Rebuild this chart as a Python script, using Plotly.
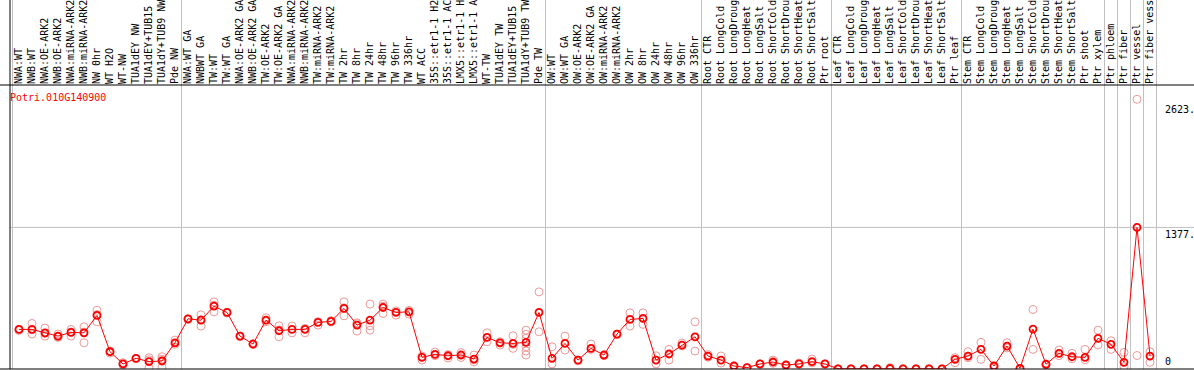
import plotly.graph_objects as go

gene = "Potri.010G140900"

labels = [
    "NWA:WT", "NWB:WT", "NWA:OE-ARK2", "NWB:OE-ARK2", "NWA:miRNA-ARK2", "NWB:miRNA-ARK2",
    "NW 0hr", "WT H2O", "WT-NW", "TUA1dEY NW", "TUA1dEY+TUB15 NW", "TUA1dY+TUB9 NW", "Pde NW",
    "NWA:WT GA", "NWBWT GA", "TW:WT", "TW:WT GA", "NWA:OE-ARK2 GA", "NWB:OE-ARK2 GA",
    "TW:OE-ARK2", "TW:OE-ARK2 GA", "NWA:miRNA-ARK2 GA", "NWB:miRNA-ARK2 GA", "TW:miRNA-ARK2",
    "TW:miRNA-ARK2 GA", "TW 2hr", "TW 8hr", "TW 24hr", "TW 48hr", "TW 96hr", "TW 336hr",
    "WT ACC", "35S::etr1-1 H2O", "35S::etr1-1 ACC", "LMX5::etr1-1 H2O", "LMX5::etr1-1 ACC",
    "WT-TW", "TUA1dEY TW", "TUA1dEY+TUB15 TW", "TUA1dY+TUB9 TW", "Pde TW",
    "OW:WT", "OW:WT GA", "OW:OE-ARK2", "OW:OE-ARK2 GA", "OW:miRNA-ARK2", "OW:miRNA-ARK2 GA",
    "OW 2hr", "OW 8hr", "OW 24hr", "OW 48hr", "OW 96hr", "OW 336hr",
    "Root CTR", "Root LongCold", "Root LongDrought", "Root LongHeat", "Root LongSalt",
    "Root ShortCold", "Root ShortDrought", "Root ShortHeat", "Root ShortSalt", "Ptr root",
    "Leaf CTR", "Leaf LongCold", "Leaf LongDrought", "Leaf LongHeat", "Leaf LongSalt",
    "Leaf ShortCold", "Leaf ShortDrought", "Leaf ShortHeat", "Leaf ShortSalt", "Ptr leaf",
    "Stem CTR", "Stem LongCold", "Stem LongDrought", "Stem LongHeat", "Stem LongSalt",
    "Stem ShortCold", "Stem ShortDrought", "Stem ShortHeat", "Stem ShortSalt", "Ptr shoot",
    "Ptr xylem", "Ptr phloem", "Ptr fiber", "Ptr vessel", "Ptr fiber vessel",
]

means = [
    385, 385, 352, 320, 356, 352, 521, 168, 49, 104, 71, 78, 255,
    488, 475, 611, 550, 320, 243, 475, 372, 385, 385, 453, 463, 589, 427, 475, 598, 550, 556,
    113, 143, 129, 136, 97, 307, 255, 249, 259, 550,
    104, 249, 87, 201, 136, 340, 482, 492, 87, 146, 233, 313,
    126, 87, 29, 13, 49, 68, 39, 49, 71, 49,
    2, 2, 2, 2, 5, 2, 2, 2, 2, 94,
    126, 191, 29, 223, 7, 388, 46, 152, 119, 113,
    298, 240, 65, 1377, 126,
]

reps = [
    [385, 375], [443, 340, 380], [398, 320, 345], [340, 307, 315], [385, 320, 360], [410, 255, 360],
    [572, 459, 530], [155, 175], [61, 39, 47], [104, 100], [110, 10, 90], [119, 19, 95], [281, 240],
    [488, 480], [527, 417, 480], [653, 556, 620], [550, 545], [320, 315], [243, 238], [498, 460],
    [420, 313, 380], [417, 352], [352, 395], [427, 460], [470, 458], [653, 517, 595], [449, 369, 440],
    [631, 378, 420], [631, 540, 610], [524, 565], [534, 570],
    [87, 125], [165, 130], [107, 140], [160, 112], [136, 70, 90], [352, 265], [233, 265],
    [323, 201, 240], [378, 337, 298, 216, 175, 136], [750, 362],
    [216, 49], [320, 184], [87, 80], [243, 190], [136, 130], [340, 335], [546, 417],
    [546, 434], [129, 49], [191, 87], [252, 225], [459, 175],
    [140, 115], [126, 58], [29, 25], [13, 10], [49, 45], [87, 55], [39, 35], [58, 45], [97, 60], [49, 45],
    [2, 0], [2, 0], [2, 0], [2, 0], [13, 0], [2, 0], [2, 0], [2, 0], [2, 0], [61, 110],
    [168, 110], [259, 94], [29, 20], [255, 205], [7, 2], [579, 191], [46, 40], [184, 130],
    [152, 100], [191, 90],
    [378, 233], [275, 191], [162, 22], [2623, 131], [168, 65],
]

group_ends = [0, 13, 41, 53, 63, 73, 84, 85, 86, 87, 88]

xs = list(range(1, len(labels) + 1))
rep_x = [i for i, r in zip(xs, reps) for _ in r]
rep_y = [v for r in reps for v in r]

mono = "DejaVu Sans Mono"

fig = go.Figure()
fig.add_trace(go.Scatter(
    x=rep_x, y=rep_y, mode="markers",
    marker=dict(symbol="circle-open", size=8, color="#eb9a9a", line=dict(width=1)),
    hoverinfo="skip", showlegend=False,
))
fig.add_trace(go.Scatter(
    x=xs, y=means, mode="lines+markers",
    line=dict(color="#ff0000", width=1),
    marker=dict(symbol="circle-open", size=7, color="#ff0000", line=dict(width=1.8)),
    showlegend=False,
))

W, H = 1194, 370
L, R, T, B = 10, 0, 85, 1
pw = W - L - R
ph = H - T - B
x0 = 1 - 9 / 13.0
x1 = x0 + pw / 13.0
ymax_val = max(rep_y)
ytop = ymax_val * (ph) / (ph - 14.3)

shapes = []
for g in group_ends:
    shapes.append(dict(type="line", xref="x", yref="paper", x0=g + 0.5, x1=g + 0.5,
                       y0=0, y1=(H - B) / ph, line=dict(color="#c0c0c0", width=1), layer="below"))
shapes.append(dict(type="line", xref="paper", yref="y", x0=0, x1=1,
                   y0=max(means), y1=max(means), line=dict(color="#c0c0c0", width=1), layer="below"))
shapes.append(dict(type="line", xref="paper", yref="paper", x0=0, x1=0, y0=0, y1=(H - B) / ph,
                   line=dict(color="black", width=1)))
shapes.append(dict(type="line", xref="paper", yref="paper", x0=-L / pw, x1=1, y0=1, y1=1,
                   line=dict(color="black", width=1)))
shapes.append(dict(type="line", xref="paper", yref="paper", x0=-L / pw, x1=1, y0=0, y1=0,
                   line=dict(color="black", width=1)))

lab_x = (1163 - L) / pw
annotations = [
    dict(text=gene, xref="paper", yref="paper", x=0, y=(H - B - 97) / ph, xanchor="left",
         yanchor="middle", xshift=-2, showarrow=False, font=dict(family=mono, size=10, color="#ff0000")),
    dict(text=f"{int(ymax_val)}.", xref="paper", yref="y", x=lab_x, y=ymax_val, xanchor="left",
         yanchor="top", yshift=-3, showarrow=False, font=dict(family=mono, size=10, color="black")),
    dict(text=f"{int(max(means))}.", xref="paper", yref="y", x=lab_x, y=max(means), xanchor="left",
         yanchor="top", yshift=0, showarrow=False, font=dict(family=mono, size=10, color="black")),
    dict(text="0", xref="paper", yref="y", x=lab_x, y=0, xanchor="left",
         yanchor="bottom", yshift=0, showarrow=False, font=dict(family=mono, size=10, color="black")),
]

fig.update_layout(
    width=W, height=H,
    margin=dict(l=L, r=R, t=T, b=B, pad=0),
    paper_bgcolor="white", plot_bgcolor="rgba(0,0,0,0)",
    showlegend=False,
    shapes=shapes, annotations=annotations,
    xaxis=dict(range=[x0, x1], tickmode="array", tickvals=xs, ticktext=labels,
               side="top", tickangle=-90, ticks="", showgrid=False, zeroline=False,
               showline=False, automargin=False,
               tickfont=dict(family=mono, size=10, color="black")),
    yaxis=dict(range=[0, ytop], showticklabels=False, showgrid=False, zeroline=False,
               showline=False, automargin=False, fixedrange=True),
)

post = ("document.body.style.margin='0';document.body.style.padding='0';"
        "document.body.style.overflow='hidden';"
        "document.documentElement.style.overflow='hidden';")
fig.write_html("out.html", post_script=post, config={"displayModeBar": False})
